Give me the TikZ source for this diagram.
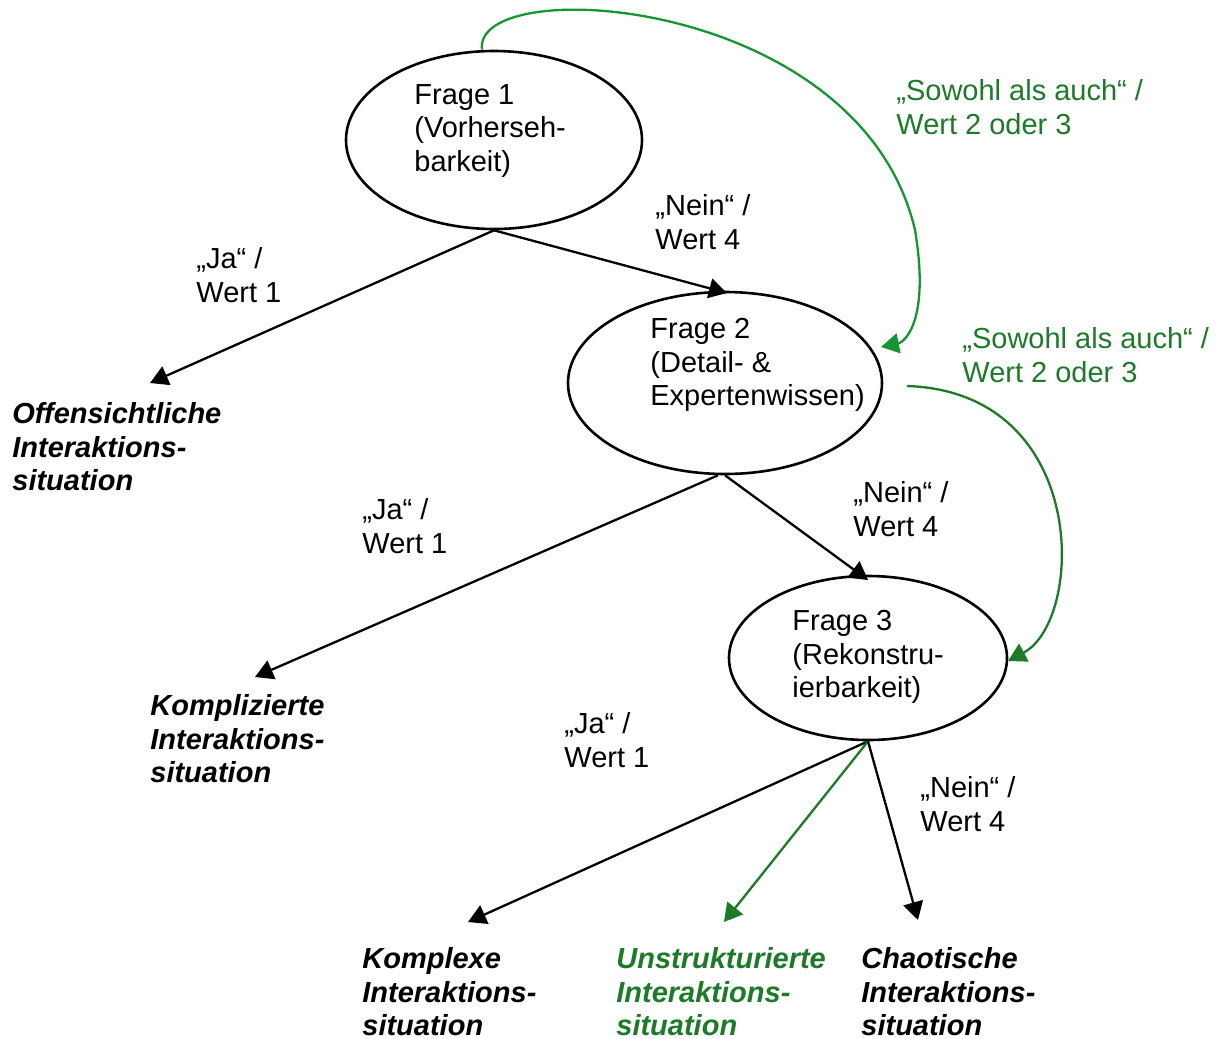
\documentclass[tikz,border=0pt]{standalone}
\usepackage{fontspec}
\setmainfont{Liberation Sans}
\usetikzlibrary{arrows.meta,shapes.geometric}
\definecolor{greenA}{RGB}{22,150,50}
\definecolor{greenB}{RGB}{28,122,40}
\tikzset{
  lbl/.style={anchor=west,align=left,inner sep=0pt,font=\fontsize{14.5pt}{16.75pt}\selectfont},
  outc/.style={lbl,font=\fontsize{14.5pt}{16.75pt}\selectfont\bfseries\itshape},
  q/.style={draw,ellipse,line width=1.3pt,inner sep=0pt},
  arr/.style={line width=1.15pt,-{Triangle[length=9pt,width=10pt]}},
  garrA/.style={arr,draw=greenA,-{Triangle[length=9pt,width=10pt,fill=greenA]}},
  garrB/.style={arr,draw=greenB,-{Triangle[length=9pt,width=10pt,fill=greenB]}}
}
\begin{document}
\begin{tikzpicture}[x=0.5pt,y=-0.5pt]
\useasboundingbox (0,0) rectangle (1227,1039);
% ellipses
\node[q,minimum width=148pt,minimum height=89pt] (e1) at (494,140) {};
\node[q,minimum width=157pt,minimum height=91pt] (e2) at (725,383) {};
\node[q,minimum width=139pt,minimum height=82pt] (e3) at (868,658) {};
% texts in ellipses
\node[lbl] (t1) at (414,131) {Frage 1\\(Vorherseh-\\barkeit)};
\node[lbl] (t2) at (650,365) {Frage 2\\(Detail- \&\\Expertenwissen)};
\node[lbl] (t3) at (792,657) {Frage 3\\(Rekonstru-\\ierbarkeit)};
% outcomes
\node[outc] (o1) at (12,447) {Offensichtliche\\Interaktions-\\situation};
\node[outc] (o2) at (150,739) {Komplizierte\\Interaktions-\\situation};
\node[outc] (o3) at (362,992) {Komplexe\\Interaktions-\\situation};
\node[outc,text=greenB] (o4) at (616,992) {Unstrukturierte\\Interaktions-\\situation};
\node[outc] (o5) at (861,992) {Chaotische\\Interaktions-\\situation};
% edge labels
\node[lbl] (l1) at (196,275) {„Ja“ /\\Wert 1};
\node[lbl] (l2) at (655,222) {„Nein“ /\\Wert 4};
\node[lbl,text=greenB] (l3) at (896,107) {„Sowohl als auch“ /\\Wert 2 oder 3};
\node[lbl] (l4) at (362,526) {„Ja“ /\\Wert 1};
\node[lbl] (l5) at (853,509) {„Nein“ /\\Wert 4};
\node[lbl,text=greenB] (l6) at (962,355) {„Sowohl als auch“ /\\Wert 2 oder 3};
\node[lbl] (l7) at (564,740) {„Ja“ /\\Wert 1};
\node[lbl] (l8) at (920,804) {„Nein“ /\\Wert 4};
% arrow end coordinates
\coordinate (a1) at (150,383);
\coordinate (a2) at (727,293);
\coordinate (a3) at (255,677);
\coordinate (a4) at (868,580);
\coordinate (a5) at (468,922);
\coordinate (a6) at (724,922);
\coordinate (a7) at (918,920);
\coordinate (g1) at (881,347);
\coordinate (g2) at (1008,661);
\coordinate (s2) at (907,386);
% connectors
\draw[arr] (e1.south) -- (a1);
\draw[arr] (e1.south) -- (a2);
\draw[arr] ([xshift=-3.5]e2.south) -- (a3);
\draw[arr] (e2.south) -- (a4);
\draw[arr] (e3.south) -- (a5);
\draw[garrB] (e3.south) -- (a6);
\draw[arr] (e3.south) -- (a7);
\draw[garrA] ([xshift=-6]e1.north) .. controls (472,-28) and (860,-5) .. (915,230)
  .. controls (930,320) and (905,342) .. (g1);
\draw[garrB] (s2) .. controls (1090,392) and (1085,620) .. (g2);
\end{tikzpicture}
\end{document}
